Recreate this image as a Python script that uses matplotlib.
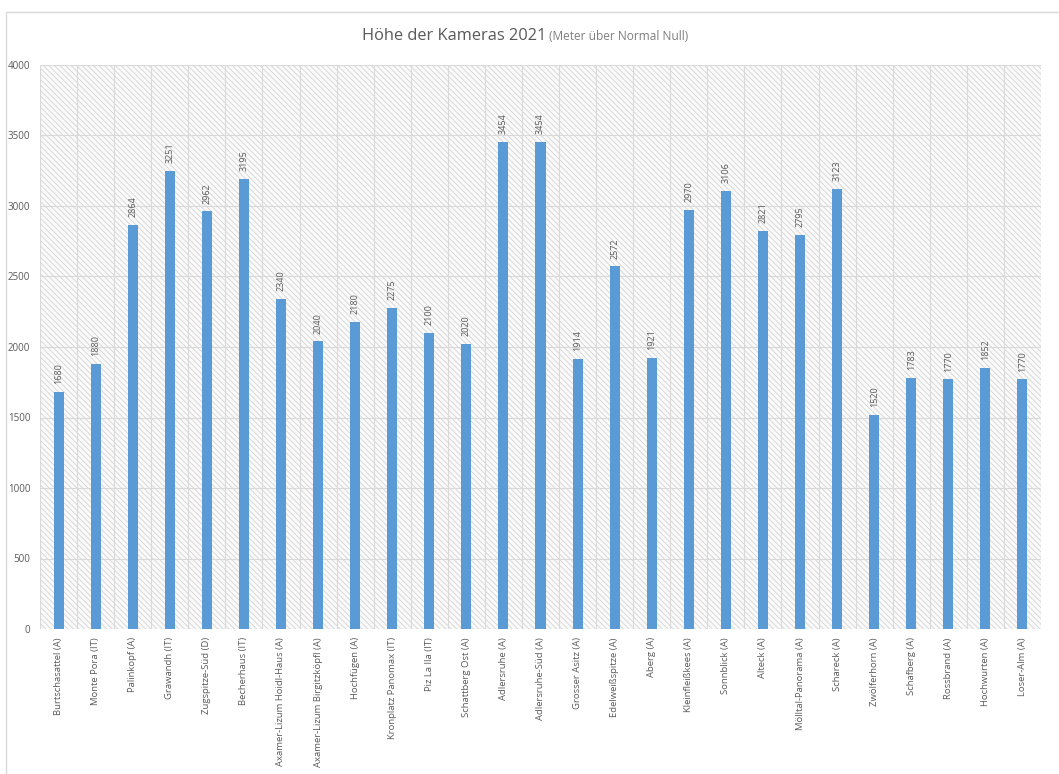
import matplotlib
matplotlib.use("Agg")
import matplotlib.pyplot as plt
from matplotlib.patches import Rectangle
import numpy as np

categories = [
    "Burtschasattel (A)", "Monte Pora (IT)", "Palinkopf (A)", "Grawandh (IT)",
    "Zugspitze-Süd (D)", "Becherhaus (IT)", "Axamer-Lizum Hoidl-Haus (A)",
    "Axamer-Lizum Birgitzköpfl (A)", "Hochfügen (A)", "Kronplatz Panomax (IT)",
    "Piz La Ila (IT)", "Schattberg Ost (A)", "Adlersruhe (A)", "Adlersruhe-Süd (A)",
    "Grosser Asitz (A)", "Edelweißspitze (A)", "Aberg (A)", "Kleinfleißkees (A)",
    "Sonnblick (A)", "Alteck (A)", "Mölltal-Panorama (A)", "Schareck (A)",
    "Zwölferhorn (A)", "Schafberg (A)", "Rossbrand (A)", "Hochwurten (A)",
    "Loser-Alm (A)",
]
heights = [1680, 1880, 2864, 3251, 2962, 3195, 2340, 2040, 2180, 2275, 2100, 2020,
           3454, 3454, 1914, 2572, 1921, 2970, 3106, 2821, 2795, 3123, 1520, 1783,
           1770, 1852, 1770]
yticks = [0, 500, 1000, 1500, 2000, 2500, 3000, 3500, 4000]

plt.rcParams['font.family'] = ['Open Sans', 'DejaVu Sans']
plt.rcParams['hatch.linewidth'] = 0.6

W, H = 1059, 774
fig = plt.figure(figsize=(W / 100, H / 100), dpi=100)
fig.patch.set_facecolor('white')

# outer chart border
fig.patches.append(Rectangle((6 / W, -0.01), 1.0, 1 - 12 / H + 0.01,
                             transform=fig.transFigure, facecolor='none',
                             edgecolor='#d9d9d9', linewidth=1.0))

ax = fig.add_axes([40 / W, 1 - 629 / H, (1041 - 40) / W, (629 - 65) / H])
ax.set_facecolor('white')
ax.add_patch(Rectangle((0, 0), 1, 1, transform=ax.transAxes, facecolor='#fafafa',
                       edgecolor='#d4d4d4', linewidth=0, hatch='\\' * 6,
                       zorder=0))

n = len(categories)
x = np.arange(n)
ax.bar(x, heights, width=0.27, color='#5b9bd5', zorder=3)

for xi, h in zip(x, heights):
    ax.text(xi, h + 55, str(h), rotation=90, ha='center', va='bottom',
            fontsize=6.5, color='#595959', zorder=4)

ax.set_xlim(-0.5, n - 0.5)
ax.set_ylim(0, 4000)
ax.set_yticks(yticks)
ax.set_yticklabels([str(t) for t in yticks], fontsize=7, color='#595959')
ax.set_xticks(x)
ax.set_xticklabels(categories, rotation=90, fontsize=6.8, color='#595959')
ax.tick_params(axis='both', length=0)
ax.tick_params(axis='y', pad=7)
ax.tick_params(axis='x', pad=6)

for yv in yticks:
    ax.axhline(yv, color='#d9d9d9', linewidth=0.8, zorder=1)
for b in np.arange(-0.5, n, 1.0):
    ax.axvline(b, color='#d9d9d9', linewidth=0.8, zorder=1)
for s in ax.spines.values():
    s.set_visible(False)

fig.text(546 / W, 1 - 36 / H, "Höhe der Kameras 2021", ha='right',
         va='center', fontsize=11.8, color='#595959')
fig.text(549 / W, 1 - 37 / H, "(Meter über Normal Null)", ha='left',
         va='center', fontsize=8.6, color='#7f7f7f')

fig.savefig("out.png", dpi=100)
